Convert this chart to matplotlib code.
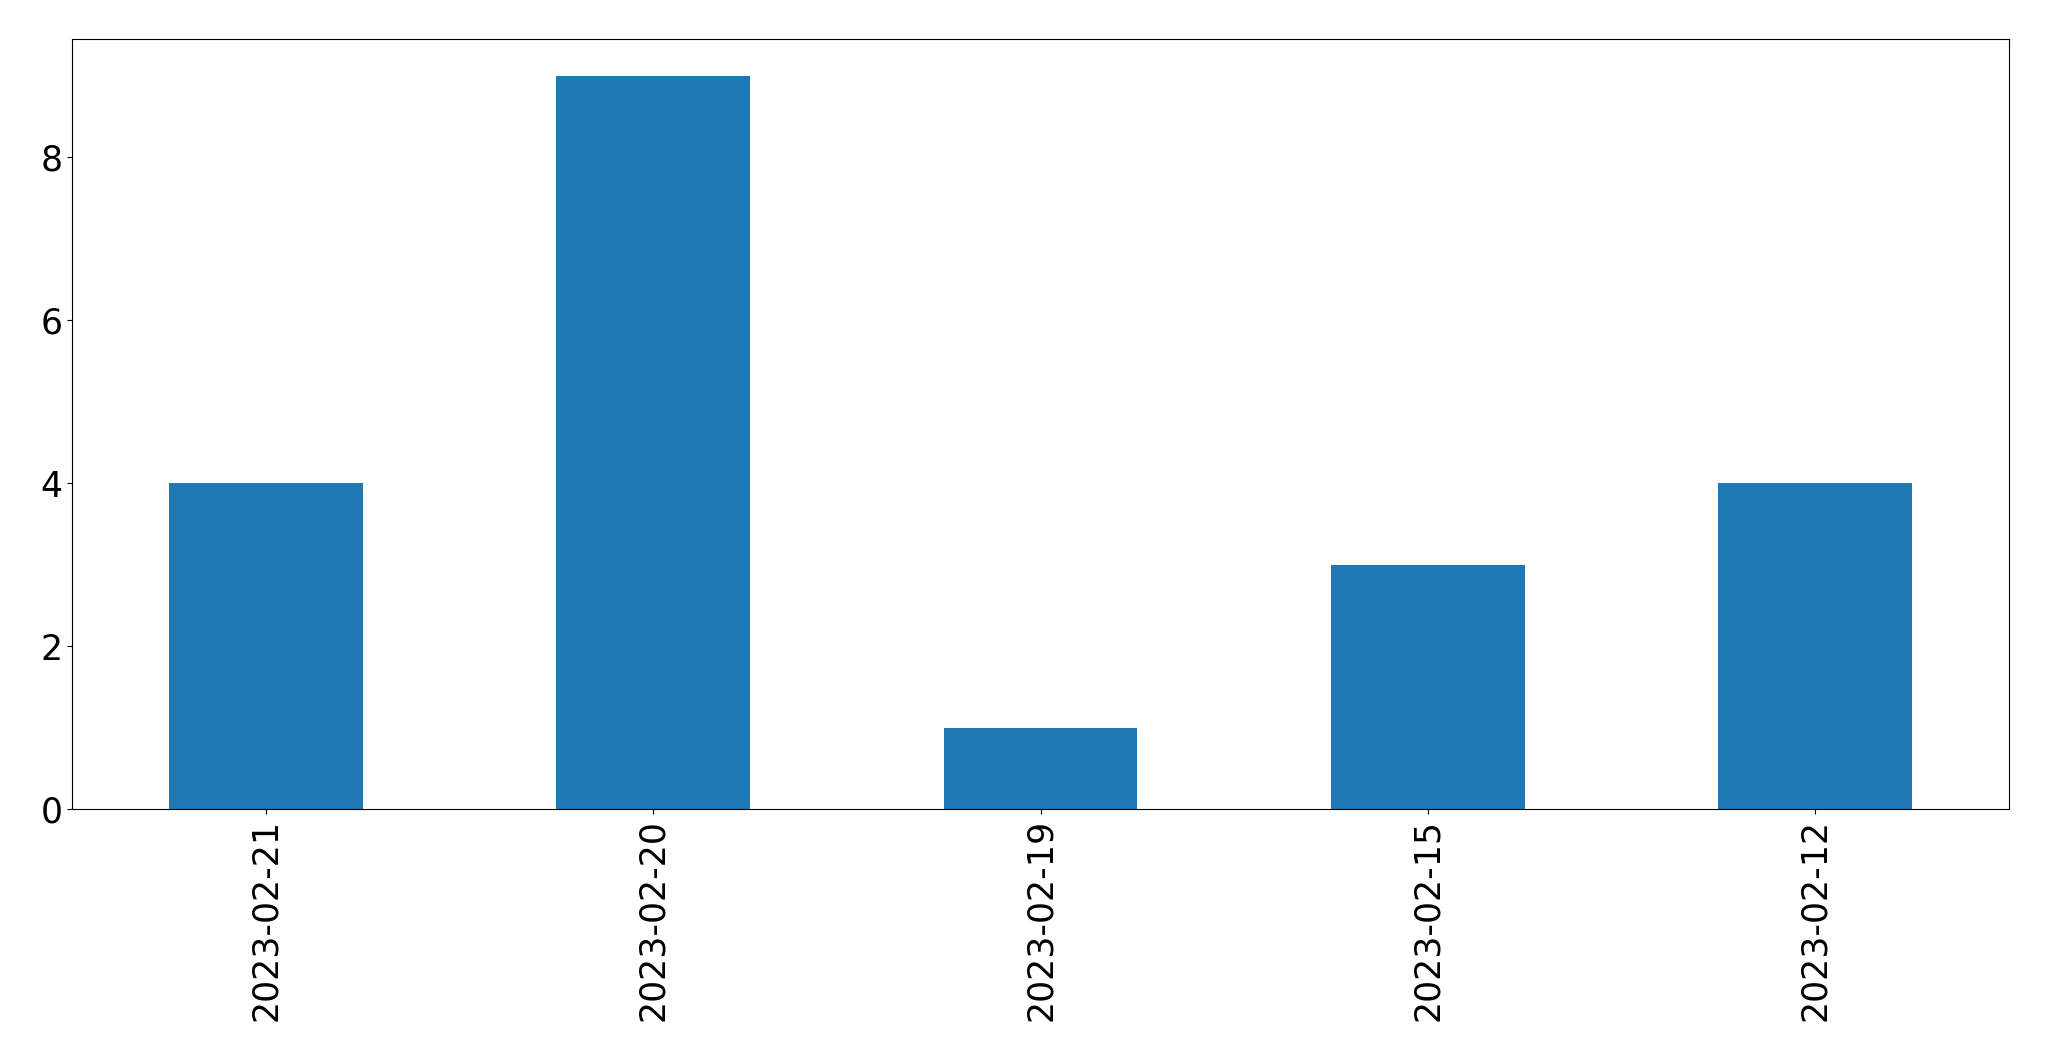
import matplotlib
matplotlib.use("Agg")
import matplotlib.pyplot as plt
import pandas as pd

# counts per date
dates = ["2023-02-21", "2023-02-20", "2023-02-19", "2023-02-15", "2023-02-12"]
counts = [4, 9, 1, 3, 4]

s = pd.Series(counts, index=dates)

fig = plt.figure(figsize=(20.49, 10.61), dpi=100)
ax = fig.add_axes([72 / 2049, 1 - 809 / 1061, (2009 - 72) / 2049, (809 - 39) / 1061])
s.plot(kind="bar", ax=ax, color="#1f77b4", fontsize=25)
ax.set_xticklabels(dates, rotation=90)

fig.savefig("out.png", dpi=100)
